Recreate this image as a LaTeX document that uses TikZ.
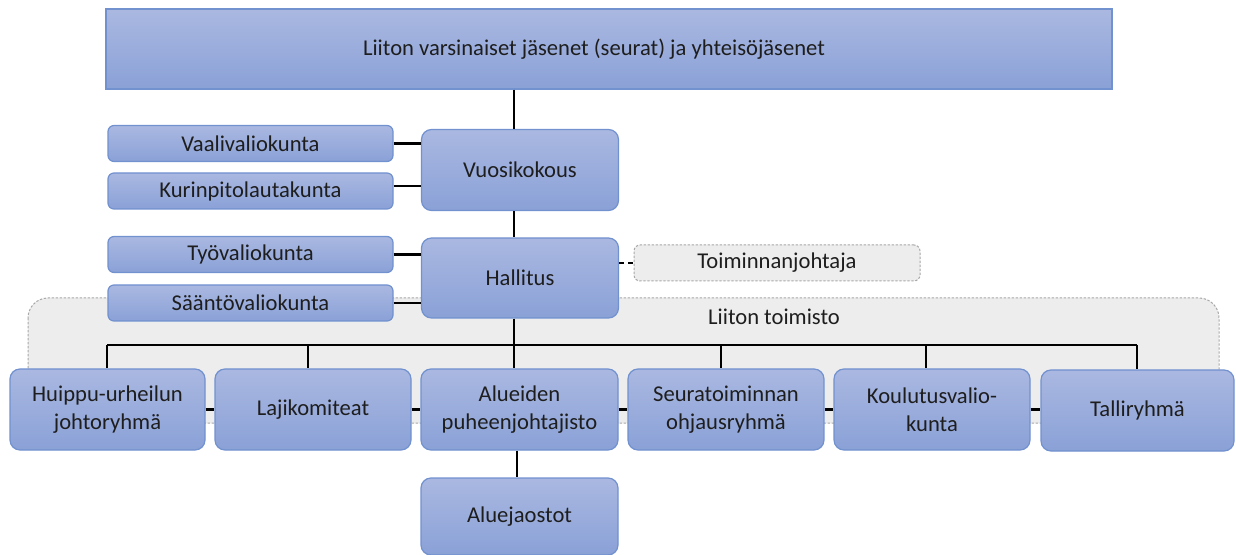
\documentclass[tikz,border=0pt]{standalone}
\usepackage{fontspec}
\setmainfont{Carlito}
\definecolor{boxtop}{HTML}{AAB8E1}
\definecolor{boxbot}{HTML}{8AA1D7}
\definecolor{boxline}{HTML}{7191CF}
\definecolor{grayfill}{HTML}{EDEDED}
\definecolor{grayline}{HTML}{A8A8A8}
\definecolor{txt}{HTML}{1E1E1E}
\begin{document}
\begin{tikzpicture}[x=0.5pt,y=-0.5pt,
  every node/.style={font=\fontsize{11.3}{14}\selectfont, text=txt, align=center, inner sep=0pt},
  bluebox/.style={draw=boxline, line width=0.6pt, top color=boxtop, bottom color=boxbot, rounded corners=5pt},
  sidebox/.style={bluebox, rounded corners=3pt, minimum width=142.5pt, minimum height=18pt},
  bigbox/.style={bluebox, minimum width=98.5pt, minimum height=40.5pt},
  graybox/.style={draw=grayline, line width=0.5pt, dash pattern=on 1.2pt off 0.8pt, fill=grayfill, rounded corners=3pt},
  conn/.style={line width=1.3pt, black},
  dconn/.style={line width=1.3pt, black, dash pattern=on 2.5pt off 2pt}]
\useasboundingbox (0,0) rectangle (1236,555);
% office background
\path[graybox, rounded corners=10pt] (28,298) rectangle (1219,423);
\node (office) at (774,317) {Liiton toimisto};
% nodes
\node[bluebox, rounded corners=0pt, minimum width=503pt, minimum height=40pt] (top) at (609,49) {Liiton varsinaiset jäsenet (seurat) ja yhteisöjäsenet\hspace*{15pt}};
\node[sidebox] (vaali) at (250.5,143.5) {Vaalivaliokunta};
\node[sidebox] (kuri) at (250.5,191) {Kurinpitolautakunta};
\node[sidebox] (tyo) at (250.5,254.5) {Työvaliokunta};
\node[sidebox] (saanto) at (250.5,303) {Sääntövaliokunta};
\node[bigbox] (vuosi) at (520,170) {Vuosikokous};
\node[bigbox, minimum height=40pt] (hall) at (520,278) {Hallitus};
\node[graybox, minimum width=143pt, minimum height=18pt] (toim) at (777,263) {Toiminnanjohtaja};
\node[bigbox, minimum width=97.5pt] (huippu) at (107.5,409.5) {Huippu-urheilun\\johtoryhmä};
\node[bigbox, minimum width=98pt] (laji) at (313,409.5) {Lajikomiteat};
\node[bigbox] (alue) at (519.5,409.5) {Alueiden\\puheenjohtajisto};
\node[bigbox, minimum width=98pt] (seura) at (726,409.5) {Seuratoiminnan\\ohjausryhmä};
\node[bigbox, minimum width=98pt] (koul) at (932,409.5) {Koulutusvalio-\\kunta};
\node[bigbox, minimum width=96.5pt] (talli) at (1137.5,410.5) {Talliryhmä};
\node[bigbox, minimum height=38.5pt] (aluej) at (519.5,516.5) {Aluejaostot};
% helper coordinates
\coordinate (spine) at (514,0);
\coordinate (b1) at (107,345);
\coordinate (b2) at (308,345);
\coordinate (b3) at (514,345);
\coordinate (b4) at (721,345);
\coordinate (b5) at (926,345);
\coordinate (b6) at (1137,345);
\coordinate (sub) at (517,0);
% connectors
\draw[conn] (top.south -| spine) -- (vuosi.north -| spine);
\draw[conn] (vuosi.south -| spine) -- (hall.north -| spine);
\draw[conn] (hall.south -| spine) -- (alue.north -| spine);
\draw[conn] (vaali.east) -- (vaali.east -| vuosi.west);
\draw[conn] ([yshift=2.5pt]kuri.east) -- ([yshift=2.5pt]kuri.east -| vuosi.west);
\draw[conn] (tyo.east) -- (tyo.east -| hall.west);
\draw[conn] (saanto.east) -- (saanto.east -| hall.west);
\draw[dconn] (toim.west -| hall.east) -- (toim.west);
\draw[conn] (b1) -- (b6);
\draw[conn] (b1) -- (huippu.north -| b1);
\draw[conn] (b2) -- (laji.north -| b2);
\draw[conn] (b4) -- (seura.north -| b4);
\draw[conn] (b5) -- (koul.north -| b5);
\draw[conn] (b6) -- (talli.north -| b6);
\draw[conn] (huippu.east) -- (laji.west);
\draw[conn] (laji.east) -- (alue.west);
\draw[conn] (alue.east) -- (seura.west);
\draw[conn] (seura.east) -- (koul.west);
\draw[conn] (koul.east) -- (koul.east -| talli.west);
\draw[conn] (alue.south -| sub) -- (aluej.north -| sub);
\end{tikzpicture}
\end{document}
